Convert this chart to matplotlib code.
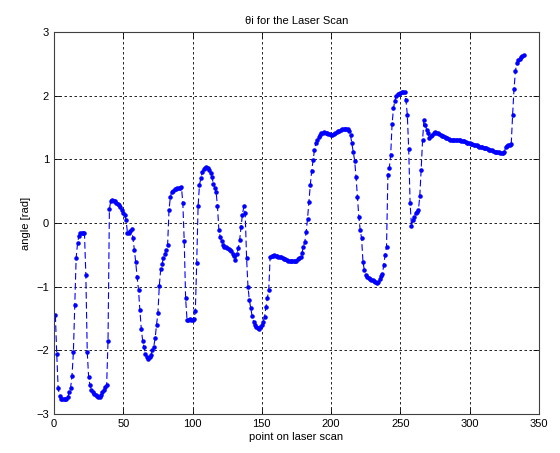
import numpy as np
import matplotlib
matplotlib.use("Agg")
import matplotlib.pyplot as plt

# -----------------------------
# Data (point index 1..339)
# -----------------------------
theta = [
    -1.45, -2.06, -2.59, -2.72, -2.76, -2.77, -2.77, -2.77, -2.76, -2.74,
    -2.65, -2.59, -2.40, -2.03, -1.29, -0.55, -0.32, -0.20, -0.16, -0.16,
    -0.16, -0.16, -0.82, -2.02, -2.42, -2.55, -2.62, -2.66, -2.68, -2.70,
    -2.72, -2.74, -2.73, -2.70, -2.66, -2.62, -2.58, -2.55, -1.85, 0.22,
    0.35, 0.36, 0.35, 0.34, 0.32, 0.30, 0.28, 0.25, 0.20, 0.16,
    0.12, 0.05, -0.15, -0.16, -0.12, -0.10, -0.24, -0.42, -0.62, -0.85,
    -1.05, -1.37, -1.66, -1.85, -1.95, -2.06, -2.11, -2.13, -2.10, -2.07,
    -2.00, -1.94, -1.81, -1.60, -1.42, -0.99, -0.73, -0.65, -0.55, -0.48,
    -0.42, -0.35, 0.20, 0.41, 0.49, 0.51, 0.53, 0.54, 0.55, 0.55,
    0.55, 0.56, 0.31, -0.29, -1.18, -1.52, -1.52, -1.51, -1.52, -1.52,
    -1.51, -1.39, -0.63, 0.26, 0.60, 0.70, 0.80, 0.85, 0.87, 0.88,
    0.86, 0.83, 0.78, 0.72, 0.62, 0.55, 0.49, 0.26, -0.11, -0.22,
    -0.29, -0.34, -0.37, -0.38, -0.40, -0.41, -0.42, -0.44, -0.48, -0.52,
    -0.58, -0.48, -0.40, -0.27, -0.06, 0.13, 0.26, 0.15, -0.55, -1.00,
    -1.21, -1.34, -1.46, -1.55, -1.60, -1.63, -1.65, -1.66, -1.64, -1.60,
    -1.55, -1.47, -1.32, -1.18, -1.05, -0.53, -0.52, -0.52, -0.51, -0.52,
    -0.52, -0.53, -0.53, -0.54, -0.55, -0.56, -0.57, -0.58, -0.59, -0.59,
    -0.60, -0.60, -0.60, -0.60, -0.59, -0.57, -0.55, -0.53, -0.47, -0.37,
    -0.30, -0.14, 0.07, 0.33, 0.60, 0.82, 0.99, 1.15, 1.25, 1.30,
    1.35, 1.38, 1.41, 1.42, 1.43, 1.42, 1.41, 1.40, 1.39, 1.38,
    1.38, 1.39, 1.41, 1.43, 1.44, 1.45, 1.46, 1.47, 1.47, 1.48,
    1.48, 1.47, 1.45, 1.38, 1.25, 1.12, 0.98, 0.72, 0.41, 0.10,
    -0.11, -0.24, -0.61, -0.74, -0.82, -0.85, -0.87, -0.88, -0.89, -0.90,
    -0.91, -0.93, -0.94, -0.92, -0.88, -0.84, -0.80, -0.66, -0.50, -0.37,
    0.75, 0.86, 1.07, 1.55, 1.80, 1.92, 2.00, 2.02, 2.03, 2.04,
    2.05, 2.06, 2.05, 1.93, 1.70, 1.16, 0.32, -0.05, 0.05, 0.10,
    0.15, 0.17, 0.20, 0.42, 0.84, 1.30, 1.62, 1.54, 1.46, 1.41,
    1.33, 1.36, 1.38, 1.41, 1.43, 1.42, 1.41, 1.40, 1.38, 1.37,
    1.36, 1.35, 1.34, 1.33, 1.32, 1.31, 1.31, 1.30, 1.30, 1.30,
    1.30, 1.30, 1.30, 1.29, 1.29, 1.28, 1.27, 1.26, 1.26, 1.25,
    1.24, 1.24, 1.23, 1.22, 1.22, 1.21, 1.20, 1.19, 1.19, 1.18,
    1.17, 1.17, 1.16, 1.15, 1.14, 1.14, 1.13, 1.12, 1.12, 1.11,
    1.11, 1.10, 1.10, 1.10, 1.12, 1.19, 1.21, 1.22, 1.23, 1.24,
    1.70, 2.10, 2.38, 2.52, 2.56, 2.58, 2.60, 2.62, 2.64,
]
x_ticks = [0, 50, 100, 150, 200, 250, 300, 350]
y_ticks = [-3, -2, -1, 0, 1, 2, 3]

idx = np.arange(1, len(theta) + 1)

plt.rcParams['font.family'] = ['Liberation Sans', 'DejaVu Sans']
plt.rcParams['font.size'] = 8

fig = plt.figure(figsize=(5.6, 4.53), dpi=100)
ax = fig.add_axes([0.0964, 0.0861, 0.866, 0.8433])

ax.plot(idx, theta, color='#0000ff', linestyle=(0, (6, 3)), linewidth=0.8,
        marker='.', markersize=4.5)

ax.set_xlim(0, 350)
ax.set_ylim(-3, 3)
ax.set_xticks(x_ticks)
ax.set_yticks(y_ticks)
ax.tick_params(direction='in', top=True, right=True, length=4, width=0.6,
               labelsize=8, colors='black')
for s in ax.spines.values():
    s.set_linewidth(0.8)
    s.set_color('#404040')

ax.grid(True, color='black', linestyle=(0, (3, 3)), linewidth=0.6)

ax.set_title("θi for the Laser Scan", fontsize=8, pad=6)
ax.set_xlabel("point on laser scan", fontsize=8, labelpad=2)
ax.set_ylabel("angle [rad]", fontsize=8, labelpad=4)

fig.savefig("out.png", dpi=100)
